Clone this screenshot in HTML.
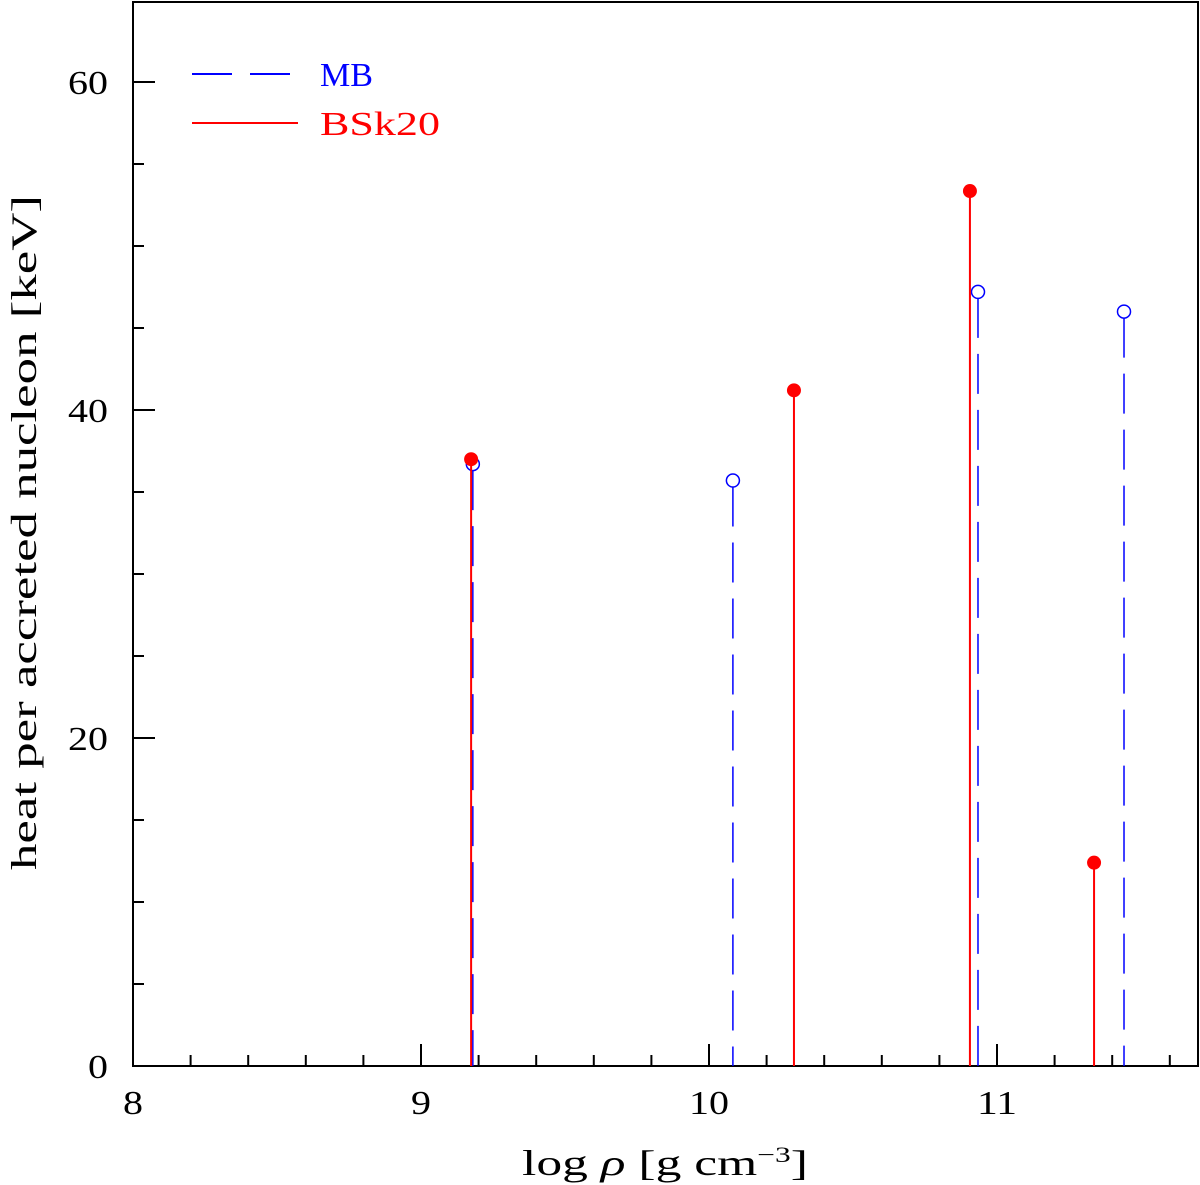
<!DOCTYPE html>
<html><head><meta charset="utf-8"><style>
html,body{margin:0;padding:0;background:#fff;}
svg{display:block;font-family:"Liberation Serif",serif;}
</style></head><body>
<svg id="chart" width="1200" height="1185" xmlns="http://www.w3.org/2000/svg">
<rect x="133" y="2" width="1065" height="1064" fill="none" stroke="#000" stroke-width="2"/>
<g id="axes"></g>
<g id="marks"></g>
<text x="522" y="1175" font-size="36" textLength="286" lengthAdjust="spacingAndGlyphs">log <tspan font-style="italic">ρ</tspan> [g cm<tspan font-size="22" dy="-13">−3</tspan><tspan dy="13">]</tspan></text>
<text transform="translate(36,870) rotate(-90)" font-size="36" textLength="675" lengthAdjust="spacingAndGlyphs">heat per accreted nucleon [keV]</text>
<g>
<line x1="192" y1="74" x2="298" y2="74" stroke="#0000ff" stroke-width="2" stroke-dasharray="40,18"/>
<text x="320" y="86" font-size="34" fill="#0000ff" textLength="53" lengthAdjust="spacingAndGlyphs">MB</text>
<line x1="192" y1="123" x2="298" y2="123" stroke="#ff0000" stroke-width="2"/>
<text x="320" y="135" font-size="34" fill="#ff0000" textLength="120" lengthAdjust="spacingAndGlyphs">BSk20</text>
</g>
</svg>
<script>
const bskX=[9.174,10.295,10.906,11.337];
const bskY=[37.0,41.2,53.35,12.4];
const mbX=[9.18,10.083,10.934,11.441];
const mbY=[36.7,35.7,47.2,46.0];
const xTicks=[8,9,10,11];
const yTicks=[0,20,40,60];
const X0=133,Y0=1066,XS=288,YS=16.4;
const sx=v=>X0+(v-8)*XS, sy=v=>Y0-v*YS;
const NS="http://www.w3.org/2000/svg";
const ax=document.getElementById('axes'), mk=document.getElementById('marks');
function el(t,a,p){const e=document.createElementNS(NS,t);for(const k in a)e.setAttribute(k,a[k]);p.appendChild(e);return e;}
for(let i=0;i<=18;i++){const v=8+i*0.2;const major=i%5===0;
 const t=el('line',{x1:sx(v),x2:sx(v),y1:Y0,y2:Y0-(major?22:11),stroke:'#000','stroke-width':2},ax);
 
 }
for(let i=0;i<=12;i++){const v=i*5;const major=v%20===0;
 const t=el('line',{x1:X0,x2:X0+(major?22:11),y1:sy(v),y2:sy(v),stroke:'#000','stroke-width':2},ax);
 
 }
xTicks.forEach(v=>{const t=el('text',{x:sx(v),y:1114,'font-size':34,'text-anchor':'middle',textLength:String(v).length*20,lengthAdjust:'spacingAndGlyphs'},ax);t.textContent=v;
 
 });
yTicks.forEach(v=>{const t=el('text',{x:108,y:sy(v)+12,'font-size':34,'text-anchor':'end',textLength:String(v).length*20,lengthAdjust:'spacingAndGlyphs'},ax);t.textContent=v;
 
 });
mbX.forEach((x,i)=>{
 const l=el('line',{x1:sx(x),x2:sx(x),y1:sy(mbY[i])+6,y2:Y0,stroke:'#0000ff','stroke-width':1.5,'stroke-dasharray':'40,16'},mk);
 
 
 const c=el('circle',{cx:sx(x),cy:sy(mbY[i]),r:6.5,fill:'none',stroke:'#0000ff','stroke-width':1.5},mk);
 
 });
bskX.forEach((x,i)=>{
 const l=el('line',{x1:sx(x),x2:sx(x),y1:Y0,y2:sy(bskY[i]),stroke:'#ff0000','stroke-width':2},mk);
 
 
 const c=el('circle',{cx:sx(x),cy:sy(bskY[i]),r:7,fill:'#ff0000'},mk);
 
 });
</script>
</body></html>
